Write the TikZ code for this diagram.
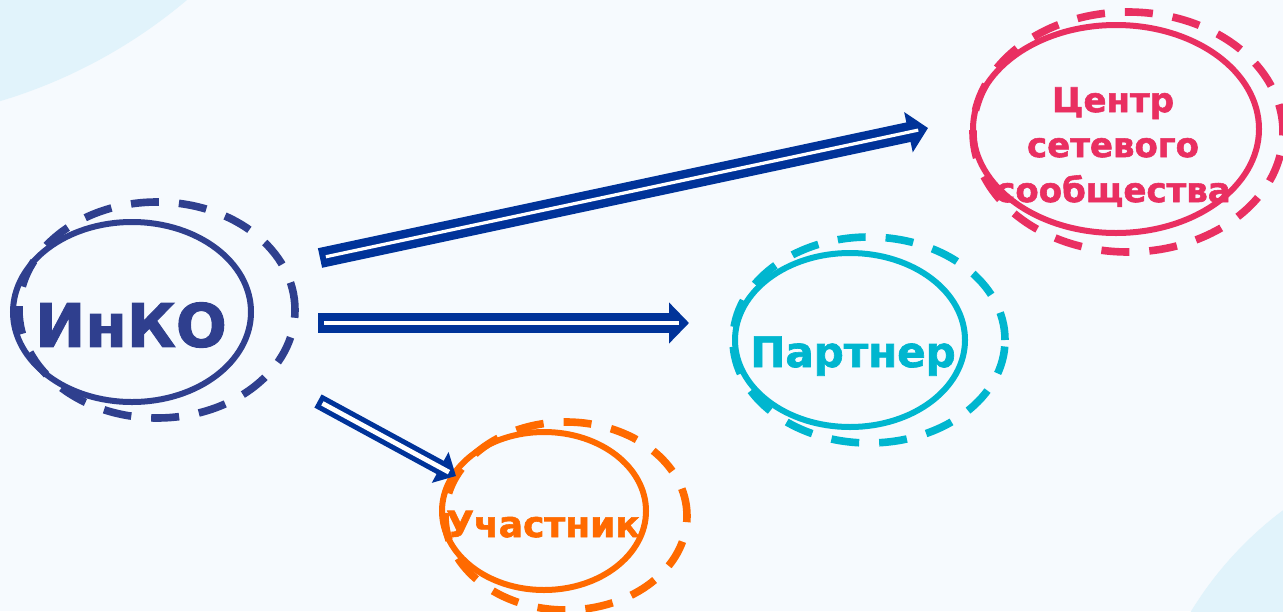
\documentclass[tikz,border=0pt]{standalone}
\usepackage{fontspec}
\setmainfont{DejaVu Sans}[BoldFeatures={FakeBold=1.6}]
\usetikzlibrary{shapes.geometric,arrows.meta}

\definecolor{bgpaper}{HTML}{F6FAFE}
\definecolor{bgblob}{HTML}{E1F3FB}
\definecolor{inkoblue}{HTML}{2F3F8E}
\definecolor{linkblue}{HTML}{003399}
\definecolor{centrepink}{HTML}{E92F61}
\definecolor{partcyan}{HTML}{00B6CF}
\definecolor{memborange}{HTML}{FF6A00}

\tikzset{
    ring/.style={ellipse, draw, line width=3pt, inner sep=0pt},
    dashring/.style={ellipse, draw, line width=3.8pt, dash pattern=on 14pt off 10pt, inner sep=0pt},
    lbl/.style={font=\bfseries, inner sep=0pt},
    link/.style={draw=linkblue, line width=10pt, -{Triangle[width=20pt,length=10pt]},
        postaction={draw=white, line width=1.6pt, -, shorten <=3pt, shorten >=5pt}},
    thinlink/.style={draw=linkblue, line width=7.5pt, -{Triangle[width=17pt,length=9pt]},
        postaction={draw=white, line width=2.4pt, -, shorten <=2.5pt, shorten >=4pt}}
}

\begin{document}
\begin{tikzpicture}[x=0.5pt, y=-0.5pt]
            \useasboundingbox (0,0) rectangle (1283,611);
            \fill[bgpaper] (0,0) rectangle (1283,611);
            \begin{scope}
                \clip (0,0) rectangle (1283,611);
                \fill[bgblob] (-150,-400) circle [radius=523];
                \fill[bgblob] (1500,800) circle [radius=362];
            \end{scope}

            \node[ring, draw=inkoblue, minimum width=119pt, minimum height=90pt] (inkoring) at (132,312) {};
            \node[dashring, draw=inkoblue, minimum width=138pt, minimum height=108pt] (inkodash) at (157,310) {};
            \node[lbl, text=inkoblue, font=\bfseries\fontsize{30}{36}\selectfont] (inko) at (131,325) {ИнКО};

            \node[ring, draw=centrepink, minimum width=143pt, minimum height=104pt] (centrering) at (1116,129) {};
            \node[dashring, draw=centrepink, minimum width=155pt, minimum height=120pt] (centredash) at (1128,132) {};
            \node[lbl, text=centrepink, align=center, font=\bfseries\fontsize{17}{22.5}\selectfont] (centre) at (1113,147) {Центр\\сетевого\\сообщества};

            \node[ring, draw=partcyan, minimum width=115pt, minimum height=87pt] (partring) at (850,340) {};
            \node[dashring, draw=partcyan, minimum width=136pt, minimum height=103pt] (partdash) at (869,340) {};
            \node[lbl, text=partcyan, anchor=base, font=\bfseries\fontsize{21}{25}\selectfont] (partner) at (853,367) {Партнер};

            \node[ring, draw=memborange, minimum width=102pt, minimum height=79pt] (membring) at (544,511) {};
            \node[dashring, draw=memborange, minimum width=121pt, minimum height=94pt] (membdash) at (566,516) {};
            \node[lbl, text=memborange, anchor=base, font=\bfseries\fontsize{18}{22}\selectfont] (member) at (543,537) {Участник};

            \coordinate (toCentre) at (928,128);
            \coordinate (toPartner) at (689,323);
            \coordinate (toMember) at (456,476);
            \coordinate (fromA) at (320,258);
            \coordinate (fromB) at (318,323);
            \coordinate (fromC) at (318,401);

            \draw[link] (fromA) -- (toCentre);
            \draw[link] (fromB) -- (toPartner);
            \draw[thinlink] (fromC) -- (toMember);
\end{tikzpicture}
\end{document}
